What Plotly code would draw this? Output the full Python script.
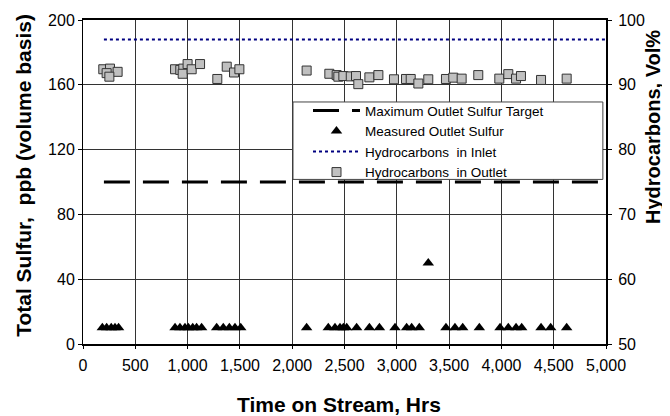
import plotly.graph_objects as go

# Hydrocarbons in Outlet (Vol%, right axis)
hc_out_hours = [194, 258, 331, 226, 252,
                880, 930, 959, 1000, 953, 1039, 1119,
                1284, 1374, 1444, 1495,
                2138, 2355, 2425, 2441, 2489, 2560, 2610, 2632, 2738, 2824,
                2973, 3088, 3133, 3206, 3301, 3470, 3540, 3620, 3779,
                3980, 4066, 4140, 4187, 4379, 4624]
hc_out_vol = [92.4, 92.5, 92.0, 91.8, 91.25,
              92.4, 92.3, 92.5, 93.2, 91.7, 92.4, 93.2,
              90.9, 92.8, 91.9, 92.4,
              92.2, 91.7, 91.5, 91.25, 91.35, 91.3, 91.35, 90.1, 91.15, 91.5,
              90.85, 90.9, 90.9, 90.2, 90.85, 90.9, 91.1, 90.95, 91.5,
              90.95, 91.65, 90.95, 91.35, 90.75, 90.95]

# Measured Outlet Sulfur (ppb, left axis)
s_hours = [185, 226, 270, 306, 340,
           880, 927, 975, 1007, 1049, 1086, 1134,
           1278, 1341, 1399, 1453, 1508,
           2138, 2345, 2409, 2457, 2489, 2521, 2616, 2738, 2834,
           2983, 3094, 3142, 3215, 3301, 3470, 3556, 3630, 3789,
           3987, 4066, 4140, 4194, 4379, 4471, 4624]
s_ppb = [10, 10, 10, 10, 10,
         10, 10, 10, 10, 10, 10, 10,
         10, 10, 10, 10, 10,
         10, 10, 10, 10, 10, 10, 10, 10, 10,
         10, 10, 10, 10, 50, 10, 10, 10, 10,
         10, 10, 10, 10, 10, 10, 10]

# Target and inlet lines
target_hours = [200, 5000]
target_ppb = [100, 100]
inlet_hours = [200, 5000]
inlet_vol = [97, 97]

x_ticks = [0, 500, 1000, 1500, 2000, 2500, 3000, 3500, 4000, 4500, 5000]
x_tick_labels = ["0", "500", "1,000", "1,500", "2,000", "2,500", "3,000",
                 "3,500", "4,000", "4,500", "5,000"]
y_ticks = [0, 40, 80, 120, 160, 200]
y2_ticks = [50, 60, 70, 80, 90, 100]

FONT = "Liberation Sans, Arial, sans-serif"
TICKFONT = dict(family=FONT, size=16, color="black")
TITLEFONT = dict(family=FONT, size=21, color="black")

fig = go.Figure()
fig.add_trace(go.Scatter(
    x=target_hours, y=target_ppb, mode="lines",
    name="Maximum Outlet Sulfur Target",
    line=dict(color="black", width=3, dash="26px,13px"),
    yaxis="y"))
fig.add_trace(go.Scatter(
    x=s_hours, y=s_ppb, mode="markers",
    name="Measured Outlet Sulfur",
    marker=dict(symbol="triangle-up", size=10, color="black",
                line=dict(width=0)),
    yaxis="y"))
fig.add_trace(go.Scatter(
    x=inlet_hours, y=inlet_vol, mode="lines",
    name="Hydrocarbons\u00a0 in Inlet",
    line=dict(color="#000080", width=2, dash="3px,3px"),
    yaxis="y2"))
fig.add_trace(go.Scatter(
    x=hc_out_hours, y=hc_out_vol, mode="markers",
    name="Hydrocarbons\u00a0 in Outlet",
    marker=dict(symbol="square", size=9, color="#c0c0c0",
                line=dict(color="#333333", width=1)),
    yaxis="y2"))

# page body has an 8px margin, so the figure is 662x408 placed at (8,8)
fig.update_layout(
    template="none",
    width=662, height=408,
    margin=dict(l=75, r=64, t=12, b=72, autoexpand=False),
    paper_bgcolor="white", plot_bgcolor="white",
    font=dict(family=FONT, size=13, color="black"),
    showlegend=True,
    legend=dict(
        x=0.4015, y=0.768, xanchor="left", yanchor="top",
        bgcolor="rgba(0,0,0,0)", borderwidth=0,
        font=dict(family=FONT, size=13.5, color="black"),
        traceorder="normal", itemwidth=47, indentation=15,
    ),
    shapes=[dict(type="rect", xref="paper", yref="paper",
                 x0=0.4015, x1=0.994, y0=0.508, y1=0.747,
                 fillcolor="white", line=dict(color="#444444", width=1),
                 layer="above")],
    xaxis=dict(
        range=[0, 5000], tickvals=x_ticks, ticktext=x_tick_labels,
        showgrid=True, gridcolor="#333333", gridwidth=1,
        showline=True, linecolor="black", linewidth=2, mirror=True,
        ticks="outside", ticklen=3, tickcolor="black",
        zeroline=False, automargin=False,
        tickfont=TICKFONT, ticklabelstandoff=3,
    ),
    yaxis=dict(
        range=[0, 200], tickvals=y_ticks,
        showgrid=True, gridcolor="#333333", gridwidth=1,
        showline=True, linecolor="black", linewidth=1,
        ticks="outside", ticklen=4, tickcolor="black",
        zeroline=False, automargin=False,
        tickfont=TICKFONT,
    ),
    yaxis2=dict(
        range=[50, 100], tickvals=y2_ticks,
        overlaying="y", side="right",
        showgrid=False,
        showline=True, linecolor="black", linewidth=2,
        ticks="outside", ticklen=4, tickcolor="black",
        zeroline=False, automargin=False,
        tickfont=TICKFONT, ticklabelstandoff=3,
    ),
    annotations=[
        dict(text="<b>Time on Stream, Hrs</b>", xref="paper", yref="paper",
             x=0.4904, y=-0.188, xanchor="center", yanchor="middle",
             showarrow=False, font=TITLEFONT),
        dict(text="<b>Total Sulfur,\u00a0 ppb (volume basis)</b>",
             xref="paper", yref="paper", x=-0.1128, y=0.519,
             xanchor="center", yanchor="middle", textangle=-90,
             showarrow=False, font=TITLEFONT),
        dict(text="<b>Hydrocarbons, Vol%</b>", xref="paper", yref="paper",
             x=1.09, y=0.67, xanchor="center", yanchor="middle",
             textangle=-90, showarrow=False,
             font=dict(family=FONT, size=20, color="black")),
    ],
)

fig.write_html("out.html")
